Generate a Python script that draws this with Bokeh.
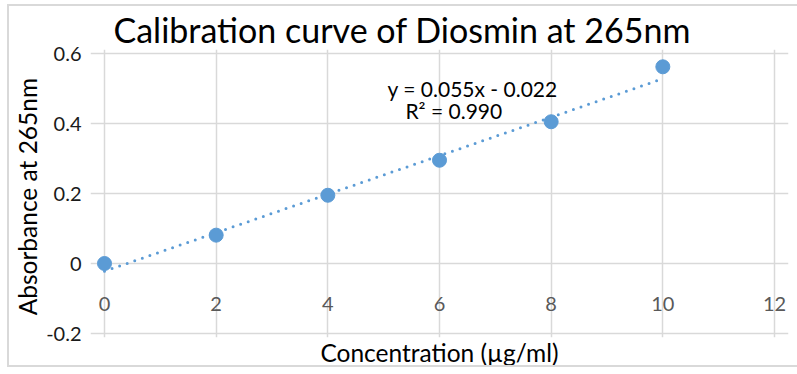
import numpy as np
from bokeh.plotting import figure
from bokeh.models import FixedTicker, Range1d, Label
from bokeh.embed import file_html
from bokeh.resources import INLINE

# Calibration data
concentration = [0, 2, 4, 6, 8, 10]
absorbance = [0.0, 0.081, 0.195, 0.295, 0.405, 0.562]

# Linear trendline parameters
slope = 0.055
intercept = -0.022
r_squared = 0.990

# Axis ticks
x_ticks = [0, 2, 4, 6, 8, 10, 12]
x_tick_labels = ["0", "2", "4", "6", "8", "10", "12"]
y_ticks = [-0.2, 0, 0.2, 0.4, 0.6]
y_tick_labels = ["-0.2", "0", "0.2", "0.4", "0.6"]

FONT = "Lato"
BLUE = "#5B9BD5"
GRID = "#D9D9D9"

# A little white room round the grid so the edge tick labels are not cut
x_lo, x_hi = x_ticks[0], x_ticks[-1]
y_lo, y_hi = y_ticks[0], y_ticks[-1]
x_pad = 14 / 670 * (x_hi - x_lo)
y_pad = 4 / 280 * (y_hi - y_lo)

p = figure(width=790, height=363, output_backend="svg", toolbar_location=None,
           x_range=Range1d(x_lo - x_pad, x_hi + x_pad),
           y_range=Range1d(y_lo - y_pad, y_hi + y_pad),
           min_border_left=81, min_border_right=11,
           min_border_top=43, min_border_bottom=32)
p.margin = (4, 0, 0, 7)
p.styles = {"border-left": f"2px solid {GRID}", "border-top": f"2px solid {GRID}",
            "border-bottom": f"2px solid {GRID}"}

p.background_fill_color = "white"
p.border_fill_color = "white"
p.outline_line_color = None

# Title
p.title.text = "Calibration curve of Diosmin at 265nm"
p.title.text_font = FONT
p.title.text_font_size = "34px"
p.title.text_font_style = "normal"
p.title.text_color = "#000000"
p.title.align = "left"
p.title.offset = 23
p.title.standoff = 0

# Grid, limited to the plotted area
p.xgrid.ticker = FixedTicker(ticks=x_ticks)
p.ygrid.ticker = FixedTicker(ticks=y_ticks)
p.xgrid.bounds = (y_lo, y_hi)
p.ygrid.bounds = (x_lo, x_hi)
p.xgrid.grid_line_color = GRID
p.ygrid.grid_line_color = GRID
p.xgrid.grid_line_width = 1.5
p.ygrid.grid_line_width = 1.5

# Y axis
p.yaxis.ticker = FixedTicker(ticks=y_ticks)
p.yaxis.major_label_overrides = {t: s for t, s in zip(y_ticks, y_tick_labels)}
p.yaxis.axis_line_color = None
p.yaxis.major_tick_line_color = None
p.yaxis.minor_tick_line_color = None
p.yaxis.major_tick_out = 0
p.yaxis.major_tick_in = 0
p.yaxis.major_label_standoff = 9
p.yaxis.major_label_text_font = FONT
p.yaxis.major_label_text_font_size = "20px"
p.yaxis.major_label_text_color = "#1A1A1A"
p.yaxis.axis_label = "Absorbance at  265nm"
p.yaxis.axis_label_text_font = FONT
p.yaxis.axis_label_text_font_size = "24.5px"
p.yaxis.axis_label_text_font_style = "normal"
p.yaxis.axis_label_text_color = "#000000"
p.yaxis.axis_label_standoff = 1

# X axis: only the title below; tick labels sit along the zero line
p.xaxis.ticker = FixedTicker(ticks=[])
p.xaxis.axis_line_color = None
p.xaxis.major_tick_line_color = None
p.xaxis.minor_tick_line_color = None
p.xaxis.major_tick_out = 0
p.xaxis.major_tick_in = 0
p.xaxis.major_label_standoff = 0
p.xaxis.axis_label = "Concentration (µg/ml)"
p.xaxis.axis_label_text_font = FONT
p.xaxis.axis_label_text_font_size = "24.5px"
p.xaxis.axis_label_text_font_style = "normal"
p.xaxis.axis_label_text_color = "#000000"
p.xaxis.axis_label_standoff = 0

for tx, tl in zip(x_ticks, x_tick_labels):
    p.add_layout(Label(x=tx, y=0, text=tl, y_offset=-40,
                       text_align="center", text_baseline="middle",
                       text_font=FONT, text_font_size="20px",
                       text_color="#595959"))

# Trendline
x_fit = np.array([concentration[0], concentration[-1]], dtype=float)
y_fit = slope * x_fit + intercept
p.line(x_fit, y_fit, line_color=BLUE, line_width=3, line_dash="0 8",
       line_cap="round")

# Data points
p.scatter(concentration, absorbance, size=14, fill_color=BLUE, line_color=BLUE)

# Trendline equation
sign = "-" if intercept < 0 else "+"
p.add_layout(Label(x=5.07, y=0.501, text=f"y = {slope:.3f}x {sign} {abs(intercept):.3f}",
                   text_font=FONT, text_font_size="21px", text_color="#000000",
                   text_baseline="middle", text_align="left"))
p.add_layout(Label(x=5.39, y=0.437, text=f"R² = {r_squared:.3f}",
                   text_font=FONT, text_font_size="21px", text_color="#000000",
                   text_baseline="middle", text_align="left"))

open("out.html", "w").write(file_html(p, INLINE))
